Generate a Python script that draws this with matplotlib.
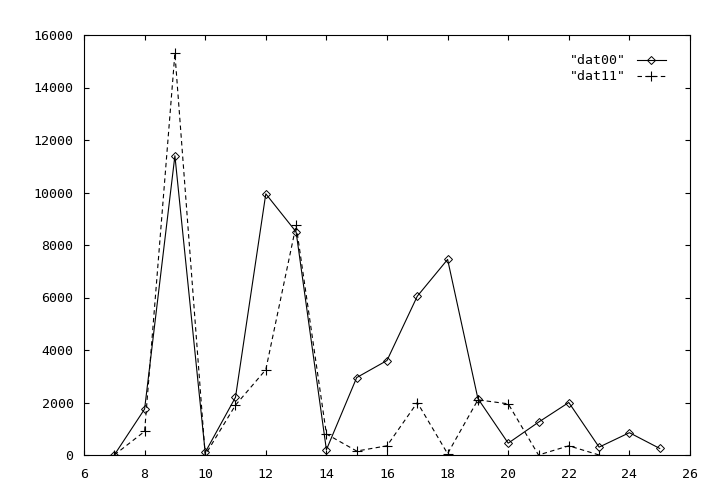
import matplotlib
matplotlib.use('Agg')
from matplotlib import pyplot as plt
import numpy as np

x00 = [7, 8, 9, 10, 11, 12, 13, 14, 15, 16, 17, 18, 19, 20, 21, 22, 23, 24, 25]
y00 = [0, 1750, 11400, 100, 2200, 9950, 8500, 200, 2950, 3600, 6050, 7450,
       2150, 450, 1250, 2000, 300, 850, 250]

x11 = [7, 8, 9, 10, 11, 12, 13, 14, 15, 16, 17, 18, 19, 20, 21, 22, 23]
y11 = [0, 900, 15300, 0, 1900, 3250, 8750, 800, 150, 350, 2000, 50,
       2100, 1950, 0, 350, 0]

plt.rcParams['font.family'] = 'DejaVu Sans Mono'
plt.rcParams['font.size'] = 9.5

fig = plt.figure(figsize=(7.12, 5.04), dpi=100)
ax = fig.add_axes([84 / 712, 1 - 455 / 504, (690 - 84) / 712, 420 / 504])

ax.plot(x00, y00, color='black', lw=0.8, marker='D', markersize=4,
        markerfacecolor='none', markeredgewidth=0.7, label='"dat00"')
ax.plot(x11, y11, color='black', lw=0.8, ls=(0, (4, 3)), marker='+',
        markersize=7, markeredgewidth=0.8, label='"dat11"')

ax.set_xlim(6, 26)
ax.set_ylim(0, 16000)
ax.set_xticks(np.arange(6, 27, 2))
ax.set_yticks(np.arange(0, 16001, 2000))
ax.tick_params(direction='in', top=True, right=True, length=3.8, width=0.8)
ax.tick_params(axis='x', pad=9)
ax.tick_params(axis='y', pad=7.5)
for s in ax.spines.values():
    s.set_linewidth(0.8)

ax.legend(loc='upper right', bbox_to_anchor=(0.982, 0.985), frameon=False,
          markerfirst=False, handlelength=2.2, labelspacing=0.2, borderpad=0.5)

fig.savefig('out.png', dpi=100)
